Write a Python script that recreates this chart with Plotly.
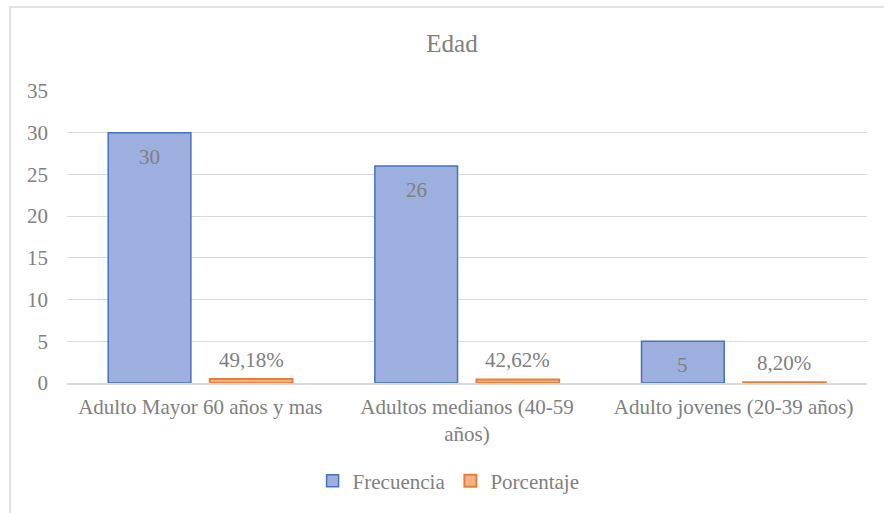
import plotly.graph_objects as go

# Age groups and their counts / shares
categorias = ["Adulto Mayor 60 años y mas", "Adultos medianos (40-59<br>años)", "Adulto jovenes (20-39 años)"]
frecuencia = [30, 26, 5]
porcentaje = [0.4918, 0.4262, 0.0820]
etiquetas_pct = ["49,18%", "42,62%", "8,20%"]

TEXT = "#808080"
GRID = "#d9d9d9"
FONT = "Liberation Serif, Times New Roman, serif"
BARGAP = 0.238
GROUPGAP = 0.186

fig = go.Figure()
fig.add_trace(go.Bar(
    name="Frecuencia", x=categorias, y=frecuencia,
    marker=dict(color="#9cafde", line=dict(color="#4472c4", width=1.5)),
))
fig.add_trace(go.Bar(
    name="Porcentaje", x=categorias, y=porcentaje,
    marker=dict(color="#f4b183", line=dict(color="#ed7d31", width=2)),
))

# Value labels, positioned on the same grouped-bar centres
half = (1 - BARGAP) / 4
annotations = []
for i, (f, p, lab) in enumerate(zip(frecuencia, porcentaje, etiquetas_pct)):
    annotations.append(dict(x=i - half, y=f, xref="x", yref="y", text=str(f),
                            showarrow=False, yanchor="middle", yshift=-24,
                            font=dict(size=21, color=TEXT, family=FONT)))
    annotations.append(dict(x=i + half, y=p, xref="x", yref="y", text=lab,
                            showarrow=False, yanchor="middle", yshift=19,
                            font=dict(size=21, color=TEXT, family=FONT)))

fig.update_layout(
    width=884, height=513,
    margin=dict(l=67, r=17, t=91, b=130),
    paper_bgcolor="white", plot_bgcolor="white",
    font=dict(family=FONT, size=21, color=TEXT),
    title=dict(text="Edad", x=452 / 884, xanchor="center", xref="container",
               y=1 - 43 / 513, yanchor="middle", yref="container",
               font=dict(size=25, color=TEXT, family=FONT)),
    barmode="group", bargap=BARGAP, bargroupgap=GROUPGAP,
    showlegend=True,
    legend=dict(orientation="h", x=0.477, xanchor="center", y=-0.336, yanchor="middle",
                font=dict(size=21, color=TEXT, family=FONT), itemwidth=30,
                traceorder="normal"),
    annotations=annotations,
    shapes=[dict(type="rect", xref="paper", yref="paper",
                 x0=-57 / 800, x1=1.2, y0=-0.7, y1=376 / 292,
                 line=dict(color=GRID, width=1.5), fillcolor="rgba(0,0,0,0)", layer="below")],
)
fig.update_yaxes(range=[0, 35], dtick=5, showgrid=True, gridcolor=GRID, gridwidth=1,
                 zeroline=False, showline=False, ticks="", tickfont=dict(size=21, color=TEXT),
                 ticklabelstandoff=18)
fig.update_xaxes(showline=True, linecolor=GRID, linewidth=1.5, ticks="",
                 tickfont=dict(size=21, color=TEXT), ticklabelstandoff=4)

fig.write_html("out.html")
